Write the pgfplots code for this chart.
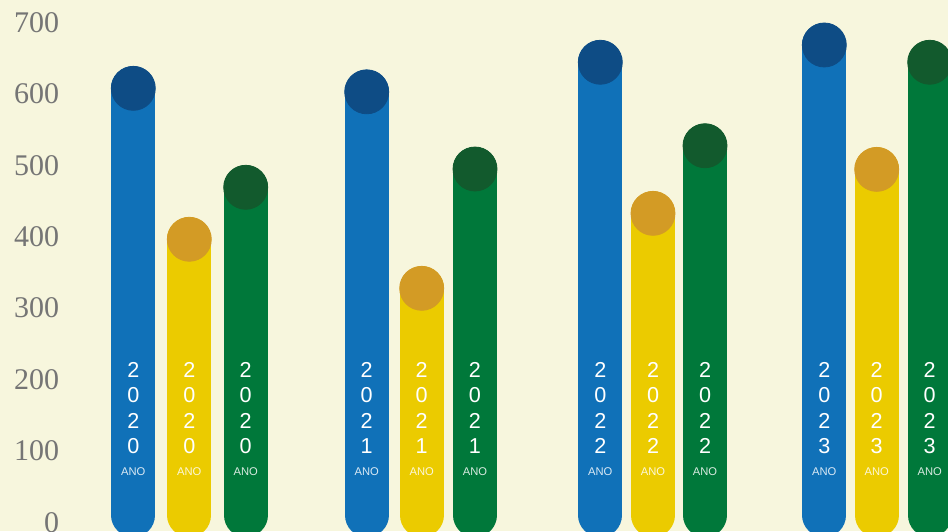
\documentclass[border=0pt]{standalone}
\usepackage{pgfplots}
\pgfplotsset{compat=1.18}
\usepackage{fontspec}
\setmainfont{Liberation Serif}
\newfontfamily\lsans{Liberation Sans}

\definecolor{bg}{HTML}{F7F6DD}
\definecolor{blueB}{HTML}{1071B8}
\definecolor{blueD}{HTML}{0E4C85}
\definecolor{yelB}{HTML}{EBCB00}
\definecolor{yelD}{HTML}{D39B25}
\definecolor{grnB}{HTML}{00783A}
\definecolor{grnD}{HTML}{125A2D}
\definecolor{tickgray}{HTML}{757575}

% 1 px of the reference = 0.5pt
\tikzset{
  yr/.style={text=white, inner sep=0pt, font=\lsans\fontsize{10.8}{12}\selectfont},
  ano/.style={text=white, text opacity=0.85, inner sep=0pt, font=\lsans\fontsize{5.6}{7}\selectfont},
}
% year written downwards inside a bar
\newcommand\yl[2]{%
  \node[yr] at (axis cs:#1,213.3) {2};
  \node[yr] at (axis cs:#1,177.6) {0};
  \node[yr] at (axis cs:#1,141.7) {2};
  \node[yr] at (axis cs:#1,106.6) {#2};
  \node[ano] at (axis cs:#1,70.4) {ANO};}

\begin{document}
\begin{tikzpicture}
\fill[bg] (-34pt,0) rectangle (440pt,265.5pt);
\begin{axis}[
    at={(0,0)}, anchor=south west,
    x=0.5pt, y=0.357pt,
    xmin=68, xmax=948,
    ymin=-12.2, ymax=731.5,
    axis line style={draw=none},
    tick style={draw=none},
    xtick=\empty,
    ytick={0,100,...,700},
    /pgf/number format/assume math mode=true,
    yticklabel style={anchor=east, inner sep=0pt, xshift=-4.3pt,
        text=tickgray, font=\fontsize{15}{18}\selectfont},
    unbounded coords=jump,
]
% bars: a thick round-capped line per bar, then a darker disc at the value
\addplot[blueB, line width=22pt, line cap=round] coordinates {
    (133.3,10) (133.3,607.8) (133.3,nan)
    (366.7,10) (366.7,602.9) (366.7,nan)
    (600.3,10) (600.3,644.3) (600.3,nan)
    (824.3,10) (824.3,668.5)};
\addplot[yelB, line width=22pt, line cap=round] coordinates {
    (189.3,10) (189.3,396.4) (189.3,nan)
    (421.7,10) (421.7,327.7) (421.7,nan)
    (653.0,10) (653.0,432.7) (653.0,nan)
    (876.7,10) (876.7,494.3)};
\addplot[grnB, line width=22pt, line cap=round] coordinates {
    (245.7,10) (245.7,469.2) (245.7,nan)
    (475.0,10) (475.0,494.8) (475.0,nan)
    (705.0,10) (705.0,527.4) (705.0,nan)
    (929.7,10) (929.7,644.3)};
\addplot[only marks, mark=*, mark size=11pt, color=blueD, mark options={draw=none}]
    coordinates {(133.3,607.8) (366.7,602.9) (600.3,644.3) (824.3,668.5)};
\addplot[only marks, mark=*, mark size=11pt, color=yelD, mark options={draw=none}]
    coordinates {(189.3,396.4) (421.7,327.7) (653.0,432.7) (876.7,494.3)};
\addplot[only marks, mark=*, mark size=11pt, color=grnD, mark options={draw=none}]
    coordinates {(245.7,469.2) (475.0,494.8) (705.0,527.4) (929.7,644.3)};

\yl{133.3}{0}\yl{189.3}{0}\yl{245.7}{0}
\yl{366.7}{1}\yl{421.7}{1}\yl{475.0}{1}
\yl{600.3}{2}\yl{653.0}{2}\yl{705.0}{2}
\yl{824.3}{3}\yl{876.7}{3}\yl{929.7}{3}
\end{axis}
\pgfresetboundingbox
\useasboundingbox (-34pt,0) rectangle (440pt,265.5pt);
\end{tikzpicture}
\end{document}
